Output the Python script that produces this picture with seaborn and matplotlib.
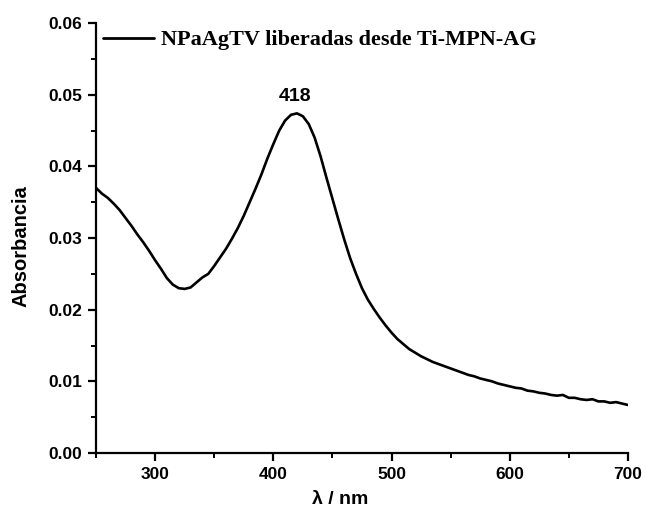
import numpy as np
import pandas as pd
import seaborn as sns
import matplotlib.pyplot as plt
from matplotlib.ticker import MultipleLocator

# UV-Vis absorption spectrum of the released silver nanoparticles
wavelength = [250, 255, 260, 265, 270, 275, 280, 285, 290, 295,
              300, 305, 310, 315, 320, 325, 330, 335, 340, 345,
              350, 355, 360, 365, 370, 375, 380, 385, 390, 395,
              400, 405, 410, 415, 420, 425, 430, 435, 440, 445,
              450, 455, 460, 465, 470, 475, 480, 485, 490, 495,
              500, 505, 510, 515, 520, 525, 530, 535, 540, 545,
              550, 555, 560, 565, 570, 575, 580, 585, 590, 595,
              600, 605, 610, 615, 620, 625, 630, 635, 640, 645,
              650, 655, 660, 665, 670, 675, 680, 685, 690, 695, 700]
absorbance = [0.0370, 0.0362, 0.0356, 0.0348, 0.0339, 0.0328, 0.0317, 0.0305, 0.0294, 0.0282,
              0.0269, 0.0257, 0.0244, 0.0235, 0.0230, 0.0229, 0.0231, 0.0238, 0.0245, 0.0250,
              0.0261, 0.0273, 0.0285, 0.0299, 0.0314, 0.0331, 0.0350, 0.0369, 0.0389, 0.0411,
              0.0431, 0.0450, 0.0464, 0.0472, 0.0474, 0.0470, 0.0459, 0.0440, 0.0414, 0.0384,
              0.0355, 0.0326, 0.0298, 0.0272, 0.0250, 0.0230, 0.0214, 0.0201, 0.0189, 0.0178,
              0.0168, 0.0159, 0.0152, 0.0145, 0.0140, 0.0135, 0.0131, 0.0127, 0.0124, 0.0121,
              0.0118, 0.0115, 0.0112, 0.0109, 0.0107, 0.0104, 0.0102, 0.0100, 0.0097, 0.0095,
              0.0093, 0.0091, 0.0090, 0.0087, 0.0086, 0.0084, 0.0083, 0.0081, 0.0080, 0.0081,
              0.0077, 0.0077, 0.0075, 0.0074, 0.0075, 0.0072, 0.0072, 0.0070, 0.0071, 0.0069, 0.0067]
series_label = "NPaAgTV liberadas desde Ti-MPN-AG"
peak_label = "418"
peak_wavelength = 418
peak_absorbance = 0.0474

df = pd.DataFrame({"wavelength": wavelength, "absorbance": absorbance, "serie": series_label})

sns.set_theme(style="ticks")
plt.rcParams["font.family"] = ["Liberation Sans", "DejaVu Sans"]
plt.rcParams["text.color"] = "black"
plt.rcParams["axes.labelcolor"] = "black"
plt.rcParams["xtick.color"] = "black"
plt.rcParams["ytick.color"] = "black"

fig = plt.figure(figsize=(6.46, 5.13), dpi=100)
ax = fig.add_axes([0.1486, 0.117, 0.8234, 0.838])

sns.lineplot(data=df, x="wavelength", y="absorbance", hue="serie",
             palette=["black"], linewidth=1.9, ax=ax)

ax.set_xlim(250, 700)
ax.set_ylim(0, 0.06)
ax.xaxis.set_major_locator(MultipleLocator(100))
ax.xaxis.set_minor_locator(MultipleLocator(50))
ax.yaxis.set_major_locator(MultipleLocator(0.01))
ax.yaxis.set_minor_locator(MultipleLocator(0.005))
ax.set_xticks([300, 400, 500, 600, 700])
ax.set_yticks([0.0, 0.01, 0.02, 0.03, 0.04, 0.05, 0.06])
ax.set_yticklabels([f"{v:.2f}" for v in ax.get_yticks()])

for side in ("top", "right"):
    ax.spines[side].set_visible(False)
for side in ("left", "bottom"):
    ax.spines[side].set_linewidth(1.6)
    ax.spines[side].set_color("black")

ax.tick_params(which="major", direction="out", length=6, width=1.6, colors="black",
               labelsize=12.5, pad=4)
ax.tick_params(which="minor", direction="out", length=3.5, width=1.4, colors="black")
for lbl in ax.get_xticklabels() + ax.get_yticklabels():
    lbl.set_fontweight("bold")

ax.set_xlabel("λ / nm", fontsize=14, fontweight="bold")
ax.set_ylabel("Absorbancia", fontsize=14.5, fontweight="bold")
ax.xaxis.set_label_coords(0.46, -0.089)
ax.yaxis.set_label_coords(-0.124, 0.481)

ax.text(peak_wavelength, peak_absorbance + 0.0012, peak_label, ha="center", va="bottom",
        fontsize=14, fontweight="bold")

leg = ax.legend(loc="upper left", frameon=False, handlelength=2.3, handletextpad=0.32,
                borderaxespad=0.0, borderpad=0.3, bbox_to_anchor=(0.0, 1.0),
                prop={"family": "Liberation Serif", "weight": "bold", "size": 16})
for line in leg.get_lines():
    line.set_linewidth(2.0)

fig.savefig("out.png", dpi=100)
